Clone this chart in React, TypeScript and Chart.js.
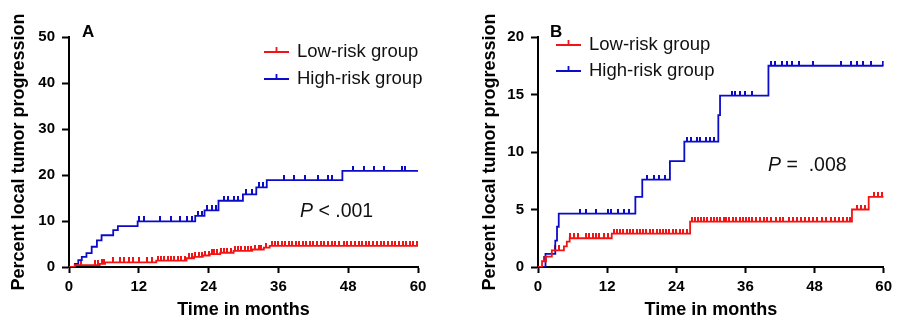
import React, { useEffect, useRef } from 'react';
import { Chart, registerables } from 'chart.js';

Chart.register(...registerables);

const FONT = 'Arial, "Liberation Sans", Helvetica, sans-serif';
const RED = '#f01414';
const BLUE = '#0c0cc8';

// shared axis
const MONTH_TICKS = [0, 12, 24, 36, 48, 60];
const X_TITLE = 'Time in months';
const Y_TITLE = 'Percent local tumor progression';
const LEGEND_LABELS = ['Low-risk group', 'High-risk group'];

// ---------- Panel A ----------
const A_Y_TICKS = [0, 10, 20, 30, 40, 50];
const A_LOW_STEP_TIMES = [0, 1.0, 5.3, 6.2, 15.0, 20.2, 21.5, 23.0, 24.2, 26.0, 28.3, 31.5, 33.5, 34.5];
const A_LOW_STEP_VALUES = [0, 0.4, 0.7, 1.0, 1.4, 1.9, 2.2, 2.5, 2.8, 3.1, 3.5, 3.8, 4.2, 4.6];
const A_LOW_CENSOR = [
  2.0, 4.5, 5.0, 5.6, 6.0, 7.5, 8.7, 9.5, 10.3, 11.0, 12.0,
  13.4, 14.2, 15.3, 15.8, 16.4, 17.0, 17.5, 18.1, 18.8, 19.3, 20.0, 20.6, 21.1, 21.7, 22.3, 22.9, 23.4, 24.0,
  24.5, 25.0, 25.5, 26.1, 26.7, 27.2, 27.8, 28.5, 29.0, 29.6, 30.2, 30.7, 31.3, 32.0, 32.6, 33.0, 33.8, 34.9, 35.4, 36.0,
  36.6, 37.2, 37.8, 38.3, 39.0, 39.6, 40.2, 40.8, 41.5, 42.0, 42.6, 43.3, 43.9, 44.5, 45.2, 45.8, 46.5, 47.2, 47.8,
  48.5, 49.2, 49.8, 50.4, 51.0, 51.6, 52.3, 53.0, 53.6, 54.2, 54.8, 55.5, 56.1, 56.8, 57.4, 58.0, 58.6, 59.2, 59.8,
];
const A_HIGH_STEP_TIMES = [0, 1.0, 1.6, 2.2, 3.0, 3.9, 4.8, 5.6, 7.6, 8.4, 11.8, 21.7, 23.3, 25.7, 29.9, 32.2, 34.0, 47.0];
const A_HIGH_STEP_VALUES = [0, 0.7, 1.5, 2.2, 3.0, 4.4, 5.8, 6.9, 8.0, 8.9, 9.9, 11.1, 12.3, 14.4, 15.8, 17.3, 18.9, 20.9];
const A_HIGH_CENSOR = [
  12.0, 12.9, 15.7, 17.5, 19.0, 20.3, 21.1, 22.2, 22.9, 23.8, 24.6, 25.2, 26.6, 27.4, 28.3, 29.1,
  30.4, 31.4, 32.7, 33.3, 37.0, 38.6, 40.5, 42.8, 44.6, 45.3, 48.9, 50.8, 52.4, 54.1, 57.3, 57.7,
];
const A_P_TEXT = ['P', ' < .001'];

// ---------- Panel B ----------
const B_Y_TICKS = [0, 5, 10, 15, 20];
const B_LOW_STEP_TIMES = [0, 0.7, 1.4, 2.4, 4.5, 5.0, 5.5, 12.8, 26.4, 54.5, 57.4];
const B_LOW_STEP_VALUES = [0, 0.5, 0.9, 1.45, 1.8, 2.2, 2.5, 2.9, 3.95, 5.0, 6.1];
const B_LOW_CENSOR = [
  1.0, 3.0, 3.6,
  5.5, 6.3, 6.9, 8.3, 8.9, 9.5, 10.1, 10.6, 11.5, 12.1,
  13.2, 13.7, 14.3, 14.8, 15.4, 16.0, 16.5, 17.1, 17.7, 18.2, 18.8, 19.4, 20.0, 20.6, 21.2, 21.7, 22.3, 22.8, 23.4, 24.0, 24.6, 25.2, 25.8,
  26.8, 27.3, 27.8, 28.3, 28.9, 29.4, 30.0, 30.5, 31.0, 31.6, 32.2, 32.7, 33.2, 33.8, 34.4, 35.0, 35.5, 36.1, 36.6, 37.2, 37.9, 38.5,
  39.2, 39.8, 40.5, 41.3, 42.0, 42.6, 43.5, 44.2, 45.0, 45.7, 46.3, 47.0, 47.8, 48.5, 49.3, 50.0, 50.8, 51.5, 52.2, 53.0, 53.7, 54.2,
  55.3, 56.0, 56.7, 58.3, 59.0, 59.7,
];
const B_HIGH_STEP_TIMES = [0, 1.3, 3.0, 3.3, 3.6, 16.9, 18.1, 22.9, 25.4, 31.3, 31.6, 40.0];
const B_HIGH_STEP_VALUES = [0, 1.15, 2.3, 3.5, 4.65, 6.1, 7.6, 9.2, 10.9, 13.2, 14.9, 17.5];
const B_HIGH_CENSOR = [
  7.3, 8.3, 10.0, 12.1, 12.6, 13.9, 14.9, 15.8, 19.0, 20.1, 21.0, 22.0,
  25.8, 26.5, 27.6, 28.1, 29.1, 29.8, 30.5, 33.7, 34.2, 35.1, 36.0, 37.1,
  40.5, 41.2, 42.3, 43.2, 44.1, 45.3, 47.7, 52.6, 54.4, 55.4, 56.5, 57.8, 59.8,
];
const B_P_TEXT = ['P', ' =  .008'];

// ---------- helpers ----------
function valueAt(times: number[], values: number[], t: number) {
  let v = values[0];
  for (let i = 0; i < times.length; i++) if (times[i] <= t) v = values[i];
  return v;
}
function stepData(times: number[], values: number[]) {
  const pts = times.map((t, i) => ({ x: t, y: values[i] }));
  pts.push({ x: 60, y: values[values.length - 1] });
  return pts;
}
function censorData(times: number[], values: number[], cens: number[]) {
  return cens.map((t) => ({ x: t, y: valueAt(times, values, t) }));
}
function tickImage(color: string) {
  const c = document.createElement('canvas');
  c.width = 2;
  c.height = 10;
  const g = c.getContext('2d')!;
  g.fillStyle = color;
  g.fillRect(0, 0, 2, 5);
  return c;
}

type Panel = {
  letter: string;
  yMax: number;
  yTicks: number[];
  low: [number[], number[], number[]];
  high: [number[], number[], number[]];
  pText: string[];
  pad: { left: number; top: number; right: number; bottom: number };
  yWidth: number;
  letterDx: number;
  legendDx: number;
  legendDy: number;
  legendGap: number;
  pDx: number;
  pY: number;
};

function buildChart(canvas: HTMLCanvasElement, p: Panel) {
  const redTick = tickImage(RED);
  const blueTick = tickImage(BLUE);
  const lineDs = (label: string, data: any[], color: string) => ({
    label,
    data,
    borderColor: color,
    backgroundColor: color,
    borderWidth: 1.8,
    pointRadius: 0,
    stepped: 'before' as const,
    fill: false,
    tension: 0,
  });
  const censDs = (data: any[], img: HTMLCanvasElement, color: string) => ({
    label: '',
    data,
    showLine: false,
    pointStyle: img,
    pointRadius: 5,
    borderColor: color,
    backgroundColor: color,
  });

  const annot = {
    id: 'annot',
    afterDraw(chart: any) {
      const ctx = chart.ctx as CanvasRenderingContext2D;
      const a = chart.chartArea;
      ctx.save();
      ctx.fillStyle = '#000';
      ctx.textBaseline = 'alphabetic';
      ctx.font = `bold 17px ${FONT}`;
      ctx.fillText(p.letter, a.left + p.letterDx, 36.5);
      // legend
      const colors = [RED, BLUE];
      LEGEND_LABELS.forEach((lab, i) => {
        const y = a.top + p.legendDy + i * p.legendGap;
        const x0 = a.left + p.legendDx;
        ctx.strokeStyle = colors[i];
        ctx.lineWidth = 1.8;
        ctx.beginPath();
        ctx.moveTo(x0, y);
        ctx.lineTo(x0 + 25, y);
        ctx.moveTo(x0 + 12.5, y);
        ctx.lineTo(x0 + 12.5, y - 5);
        ctx.stroke();
        ctx.fillStyle = '#111';
        ctx.font = `18.5px ${FONT}`;
        ctx.textBaseline = 'middle';
        ctx.fillText(lab, x0 + 33, y);
      });
      // p value
      ctx.textBaseline = 'alphabetic';
      ctx.fillStyle = '#111';
      ctx.font = `italic 19.5px ${FONT}`;
      const px = a.left + p.pDx;
      ctx.fillText(p.pText[0], px, p.pY);
      const w = ctx.measureText(p.pText[0]).width;
      ctx.font = `19.5px ${FONT}`;
      ctx.fillText(p.pText[1], px + w, p.pY);
      ctx.restore();
    },
  };

  return new Chart(canvas, {
    type: 'line',
    data: {
      datasets: [
        lineDs(LEGEND_LABELS[0], stepData(p.low[0], p.low[1]), RED),
        lineDs(LEGEND_LABELS[1], stepData(p.high[0], p.high[1]), BLUE),
        censDs(censorData(p.low[0], p.low[1], p.low[2]), redTick, RED),
        censDs(censorData(p.high[0], p.high[1], p.high[2]), blueTick, BLUE),
      ] as any,
    },
    options: {
      animation: false,
      responsive: false,
      devicePixelRatio: 1,
      layout: { padding: p.pad },
      plugins: { legend: { display: false }, tooltip: { enabled: false } },
      scales: {
        x: {
          type: 'linear',
          min: 0,
          max: 60,
          afterBuildTicks: (s: any) => {
            s.ticks = MONTH_TICKS.map((v) => ({ value: v }));
          },
          afterFit: (s: any) => {
            s.height = 54;
          },
          ticks: { color: '#000', font: { family: FONT, size: 15, weight: 'bold' }, padding: 5, maxRotation: 0 },
          grid: { drawOnChartArea: false, drawTicks: true, tickLength: 6, tickWidth: 2, tickColor: '#000' },
          border: { display: true, color: '#000', width: 2 },
          title: {
            display: true,
            text: X_TITLE,
            color: '#000',
            font: { family: FONT, size: 18, weight: 'bold' },
            padding: { top: 4, bottom: 0 },
          },
        },
        y: {
          type: 'linear',
          min: 0,
          max: p.yMax,
          afterBuildTicks: (s: any) => {
            s.ticks = p.yTicks.map((v) => ({ value: v }));
          },
          afterFit: (s: any) => {
            s.width = p.yWidth;
          },
          ticks: { color: '#000', font: { family: FONT, size: 15, weight: 'bold' }, padding: 7 },
          grid: { drawOnChartArea: false, drawTicks: true, tickLength: 7, tickWidth: 2, tickColor: '#000' },
          border: { display: true, color: '#000', width: 2 },
          title: {
            display: true,
            text: Y_TITLE,
            color: '#000',
            font: { family: FONT, size: 18, weight: 'bold' },
            padding: { top: 8, bottom: 0 },
          },
        },
      },
    } as any,
    plugins: [annot],
  });
}

const PANEL_A: Panel = {
  letter: 'A',
  yMax: 50,
  yTicks: A_Y_TICKS,
  low: [A_LOW_STEP_TIMES, A_LOW_STEP_VALUES, A_LOW_CENSOR],
  high: [A_HIGH_STEP_TIMES, A_HIGH_STEP_VALUES, A_HIGH_CENSOR],
  pText: A_P_TEXT,
  pad: { left: 0, top: 37, right: 30, bottom: 0 },
  yWidth: 69,
  letterDx: 13,
  legendDx: 195,
  legendDy: 15,
  legendGap: 27,
  pDx: 231,
  pY: 217,
};

const PANEL_B: Panel = {
  letter: 'B',
  yMax: 20,
  yTicks: B_Y_TICKS,
  low: [B_LOW_STEP_TIMES, B_LOW_STEP_VALUES, B_LOW_CENSOR],
  high: [B_HIGH_STEP_TIMES, B_HIGH_STEP_VALUES, B_HIGH_CENSOR],
  pText: B_P_TEXT,
  pad: { left: 23, top: 37, right: 10, bottom: 0 },
  yWidth: 67,
  letterDx: 12,
  legendDx: 18,
  legendDy: 8,
  legendGap: 26,
  pDx: 230,
  pY: 171,
};

function KMPanel({ left, width, panel }: { left: number; width: number; panel: Panel }) {
  const ref = useRef<HTMLCanvasElement>(null);
  useEffect(() => {
    const chart = buildChart(ref.current!, panel);
    return () => chart.destroy();
  }, []);
  return (
    <canvas
      ref={ref}
      width={width}
      height={321}
      style={{ position: 'absolute', left, top: 0, width, height: 321 }}
    />
  );
}

export default function App() {
  return (
    <div style={{ position: 'absolute', left: 0, top: 0, width: 897, height: 321, background: '#fff', overflow: 'hidden' }}>
      <KMPanel left={0} width={448} panel={PANEL_A} />
      <KMPanel left={448} width={449} panel={PANEL_B} />
    </div>
  );
}
